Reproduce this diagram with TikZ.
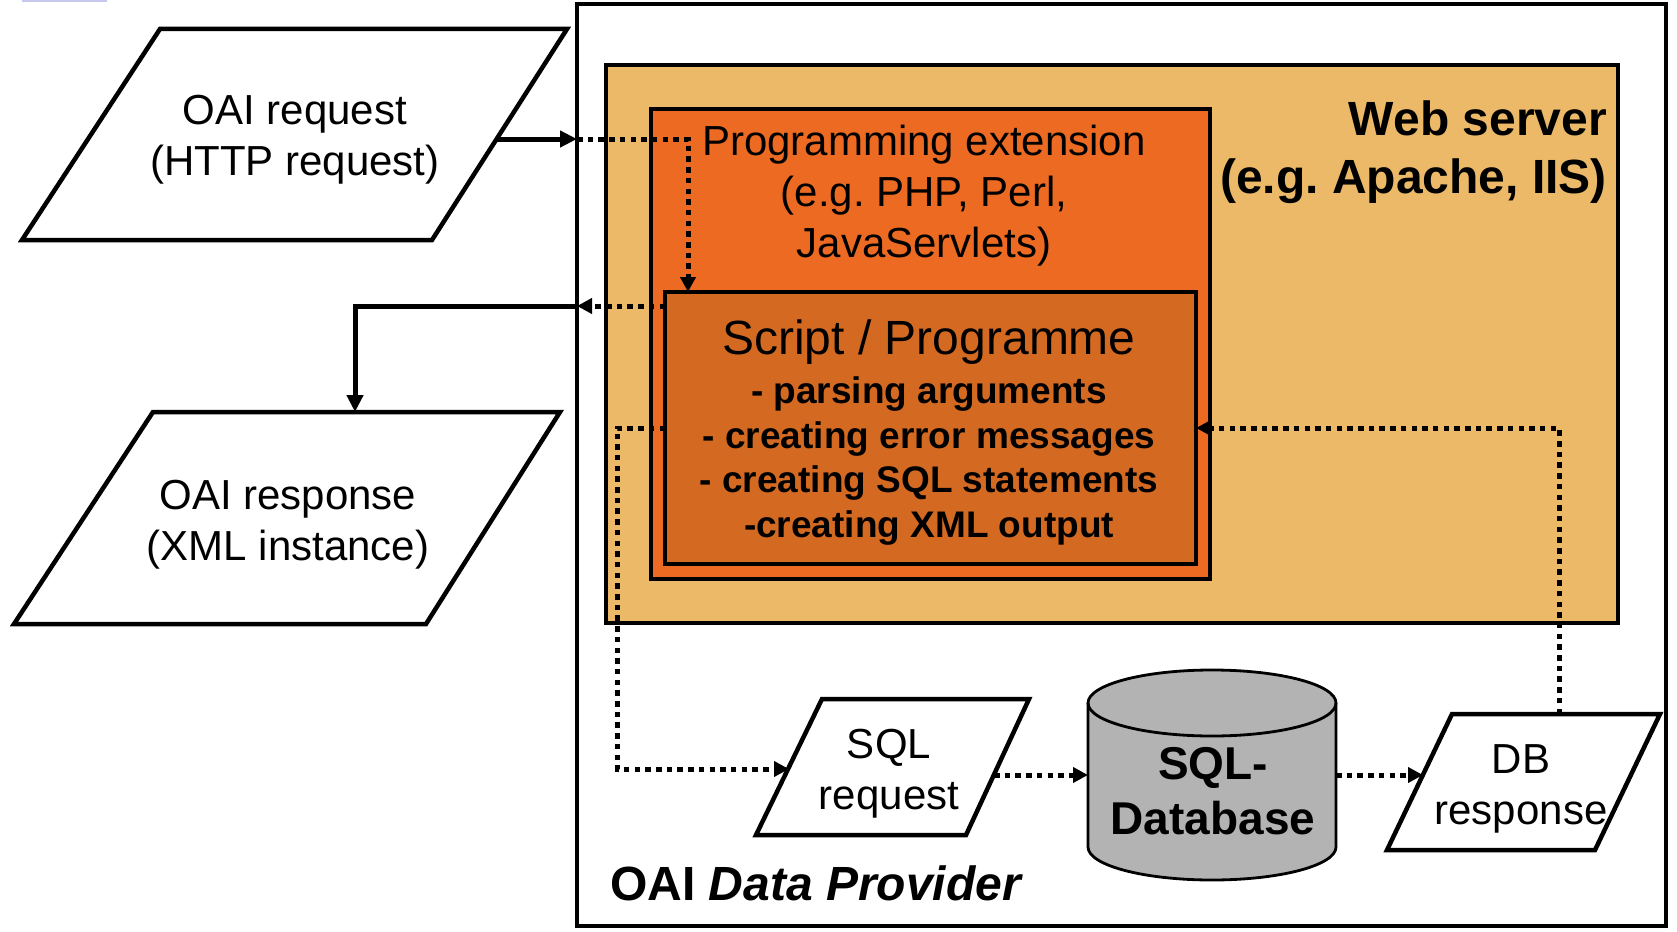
\documentclass[tikz,border=0pt]{standalone}
\usepackage{fontspec}
\setmainfont{Liberation Sans}
\usetikzlibrary{arrows.meta,calc}
\definecolor{webfill}{HTML}{EBB968}
\definecolor{extfill}{HTML}{EC6A22}
\definecolor{scriptfill}{HTML}{D46A22}
\definecolor{dbfill}{HTML}{B3B3B3}
\definecolor{artefact}{HTML}{C8C8EE}
\newcommand\fsreg{\fontsize{42}{51}\selectfont}
\newcommand\fsbig{\fontsize{48}{58}\selectfont}
\newcommand\fslist{\fontsize{37}{44.6}\selectfont\bfseries}
\newcommand\fsdb{\fontsize{46}{55}\selectfont\bfseries}
\frenchspacing
\begin{document}
\begin{tikzpicture}[x=1pt,y=-1pt,
  box/.style={draw, line width=4.5pt, anchor=north west, inner sep=0pt, outer sep=0pt},
  para/.style={draw, fill=white, line width=4.5pt, line join=miter},
  txt/.style={inner sep=0pt, align=center, font=\fsreg},
  solidarrow/.style={line width=5pt, -{Triangle[length=17pt,width=16pt]}},
  dotline/.style={line width=5pt, dash pattern=on 5.5pt off 5.2pt},
  dotarrow/.style={dotline, -{Triangle[length=15pt,width=15pt]}},
]
\useasboundingbox (0,0) rectangle (1677,931);
\fill[artefact] (22,0) rectangle (107,2.5);

% containers
\node[box, minimum width=1089pt, minimum height=922pt] (outer) at (577,4) {};
\node[box, fill=webfill, minimum width=1012pt, minimum height=558pt] (web) at (606,65) {};
\node[box, fill=extfill, minimum width=559pt, minimum height=470pt] (ext) at (651,109) {};
\node[box, fill=scriptfill, minimum width=531pt, minimum height=272pt] (script) at (665,292) {};

% parallelograms
\draw[para] (160,29) -- (567,29) -- (432,240) -- (22,240) -- cycle;
\draw[para] (153,412) -- (560,412) -- (426,624) -- (14,624) -- cycle;
\draw[para] (822,699) -- (1029,699) -- (966,835) -- (756,835) -- cycle;
\draw[para] (1452,714) -- (1660,714) -- (1595,850) -- (1387,850) -- cycle;

% database cylinder
\node[minimum width=248pt, minimum height=210pt, inner sep=0pt, outer sep=0pt] (db) at (1212,775) {};
\draw[fill=dbfill, line width=2.8pt] (1088,703) -- (1088,847)
  arc[start angle=180, end angle=0, x radius=124, y radius=33] -- (1336,703)
  arc[start angle=0, end angle=-180, x radius=124, y radius=33] -- cycle;
\draw[line width=2.8pt] (1088,703) arc[start angle=180, end angle=0, x radius=124, y radius=33];

% connector points
\coordinate (rqout) at (497,139);
\coordinate (extIn) at ($(script.north west)+(23,0)$);
\coordinate (sOut) at ($(script.north west)+(0,14)$);
\coordinate (sSql) at ($(script.north west)+(0,136)$);
\coordinate (sIn) at ($(script.north east)+(0,136)$);
\coordinate (rsTop) at (355,412);
\coordinate (sqlBend) at (617,769);
\coordinate (sqlIn) at (789,769);
\coordinate (sqlOut) at (994,775);
\coordinate (dbrIn) at (1423,775);
\coordinate (dbrTop) at (1559,714);

% connectors
\draw[solidarrow] (rqout) -- (rqout -| outer.west);
\draw[dotarrow] (rqout -| outer.west) -| (extIn);
\draw[dotarrow] (sOut) -- (sOut -| outer.west);
\draw[solidarrow] (sOut -| outer.west) -| (rsTop);
\draw[dotarrow] (sSql) -| (sqlBend) -- (sqlIn);
\draw[dotarrow] (sqlOut) -- (sqlOut -| db.west);
\draw[dotarrow] (dbrIn -| db.east) -- (dbrIn);
\draw[dotarrow] (dbrTop) |- (sIn);

% texts
\node[txt] (exttext) at (924,196) {Programming extension\\(e.g. PHP, Perl,\\JavaServlets)};
\node[txt, font=\fsbig\bfseries, align=right, anchor=east] (webtext) at (1607,152) {Web server\\(e.g. Apache, IIS)};
\node[txt, font=\fsbig] (scripttitle) at (929,342) {Script / Programme};
\node[txt, font=\fslist] (scriptlist) at (929,461) {- parsing arguments\\- creating error messages\\- creating SQL statements\\-creating XML output};
\node[txt, font=\fsbig\bfseries, anchor=west] (dptext) at (610,883) {OAI \textit{Data Provider}};
\node[txt] (rqtext) at (295,140) {OAI request\\(HTTP request)};
\node[txt] (rstext) at (288,525) {OAI response\\(XML instance)};
\node[txt] (sqltext) at (889,774) {SQL\\request};
\node[txt] (dbrtext) at (1521,789) {DB\\response};
\node[txt, font=\fsdb] (dbtext) at (1213,791) {SQL-\\Database};
\end{tikzpicture}
\end{document}
